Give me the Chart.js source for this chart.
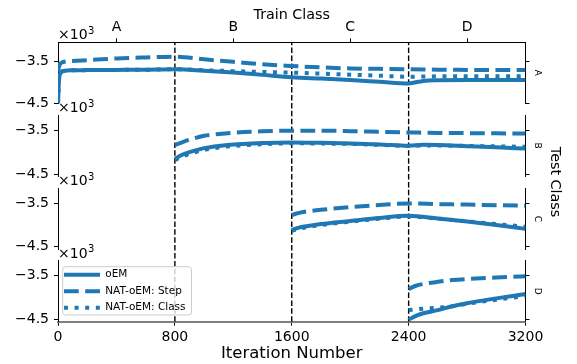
<!DOCTYPE html>
<html>
<head>
<meta charset="utf-8">
<script src="https://cdn.jsdelivr.net/npm/chart.js@4.4.1/dist/chart.umd.min.js"></script>
<style>
  body { margin: 0; background: #fff; }
  #wrap { position: relative; width: 577px; height: 364px; overflow: hidden; background: #fff; }
  #wrap canvas { position: absolute; left: 0; }
</style>
</head>
<body>
<div id="wrap"></div>
<script>
// ---- data (values in raw units, axis shows x10^3) ----
const testClasses = ['A', 'B', 'C', 'D'];
const trainClasses = ['A', 'B', 'C', 'D'];
const trainTickIters = [400, 1200, 2000, 2800];
const iterTicks = [0, 800, 1600, 2400, 3200];
const boundaryIters = [800, 1600, 2400];
const yTicks = [-4500, -3500];
const seriesNames = ['oEM', 'NAT-oEM: Step', 'NAT-oEM: Class'];

const itersA = [0, 8, 20, 40, 100, 200, 400, 600, 800, 1000, 1200, 1400, 1600, 1800, 2000, 2200, 2400, 2500, 2600, 2800, 3000, 3200];
const oemA   = [-4500, -3900, -3760, -3720, -3705, -3700, -3695, -3690, -3680, -3715, -3760, -3815, -3870, -3905, -3940, -3980, -4020, -3960, -3945, -3940, -3940, -3940];
const stepA  = [-3750, -3600, -3530, -3500, -3480, -3460, -3420, -3395, -3375, -3440, -3500, -3560, -3600, -3635, -3660, -3670, -3680, -3685, -3690, -3695, -3700, -3700];
const classA = [-4500, -3900, -3760, -3720, -3705, -3700, -3695, -3690, -3680, -3705, -3725, -3745, -3760, -3785, -3810, -3835, -3860, -3855, -3850, -3850, -3850, -3850];

const itersB = [800, 850, 900, 1000, 1100, 1200, 1400, 1600, 1800, 2000, 2200, 2400, 2500, 2600, 2800, 3000, 3200];
const oemB   = [-4150, -4060, -4000, -3910, -3860, -3830, -3795, -3780, -3790, -3805, -3825, -3855, -3835, -3840, -3865, -3890, -3920];
const stepB  = [-3840, -3780, -3720, -3630, -3590, -3560, -3530, -3515, -3515, -3525, -3540, -3555, -3560, -3565, -3570, -3575, -3580];
const classB = [-4180, -4100, -4040, -3950, -3895, -3860, -3820, -3800, -3805, -3815, -3835, -3860, -3850, -3850, -3860, -3870, -3880];

const itersC = [1600, 1650, 1700, 1800, 2000, 2200, 2400, 2600, 2800, 3000, 3200];
const oemC   = [-4115, -4060, -4030, -3980, -3910, -3840, -3790, -3850, -3920, -4000, -4090];
const stepC  = [-3770, -3720, -3690, -3650, -3590, -3540, -3505, -3520, -3530, -3545, -3555];
const classC = [-4135, -4085, -4050, -4000, -3925, -3855, -3805, -3855, -3915, -3980, -4040];

const itersD = [2400, 2450, 2500, 2600, 2700, 2800, 3000, 3200];
const oemD   = [-4510, -4420, -4360, -4290, -4200, -4130, -4020, -3920];
const stepD  = [-3805, -3730, -3690, -3640, -3600, -3575, -3540, -3510];
const classD = [-4290, -4270, -4255, -4235, -4200, -4145, -4050, -3965];

// y limits of each test-class panel
const panelYMin = [-4505, -4545, -4565, -4555];
const panelYMax = [-3030, -3160, -3155, -3155];

// ---- layout ----
const W = 577, H = 364;
const AREA_LEFT = 58, AREA_RIGHT = 525.5;
const panelTops = [42.3, 115, 188.3, 260.7];
const panelBottoms = [103.5, 176.2, 249.5, 321.7];
const BLUE = '#1f77b4';
const FONT = 'DejaVu Sans';
const LINE_W = 4;
const DASH = [14.8, 6.4];
const DOT = [4, 6.6];

Chart.defaults.font.family = FONT;
Chart.defaults.color = '#000';
Chart.defaults.animation = false;

const wrap = document.getElementById('wrap');
function addCanvas(top, height) {
    const c = document.createElement('canvas');
    c.width = W; c.height = height;
    c.style.top = top + 'px';
    wrap.appendChild(c);
    return c.getContext('2d');
}

function toPoints(iters, values) {
    return iters.map((x, i) => ({ x: x, y: values[i] }));
}

function fmtTick(v) {
    return (v / 1000).toFixed(1).replace('-', '\u2212');
}

// ---- frame: shared axes, boundaries, titles ----
const frameCtx = addCanvas(0, H);
new Chart(frameCtx, {
    type: 'line',
    data: {
        datasets: boundaryIters.map(b => ({
            data: [{ x: b, y: 0 }, { x: b, y: 1 }],
            borderColor: '#000',
            borderWidth: 1.4,
            borderDash: [5.5, 2.4],
            pointRadius: 0
        }))
    },
    options: {
        responsive: false,
        layout: { padding: { left: AREA_LEFT, right: 0, top: 0, bottom: 0 } },
        plugins: { legend: { display: false }, tooltip: { enabled: false } },
        scales: {
            x: {
                type: 'linear', position: 'bottom', min: 0, max: 3200,
                afterBuildTicks: s => { s.ticks = iterTicks.map(v => ({ value: v })); },
                ticks: { font: { size: 14 }, color: '#000', padding: 3.5, maxRotation: 0, autoSkip: false, callback: v => String(v) },
                grid: { drawOnChartArea: false, drawTicks: true, tickLength: 4, color: '#000' },
                border: { display: true, color: '#7f7f7f', width: 2 },
                title: { display: true, text: 'Iteration Number', font: { size: 16.5 }, color: '#000', padding: { top: 0, bottom: 0 } },
                afterFit: s => { s.height = H - panelBottoms[3]; }
            },
            x2: {
                type: 'linear', position: 'top', min: 0, max: 3200,
                afterBuildTicks: s => { s.ticks = trainTickIters.map(v => ({ value: v })); },
                ticks: { font: { size: 14 }, color: '#000', padding: 2.5, maxRotation: 0, autoSkip: false,
                    callback: v => trainClasses[trainTickIters.indexOf(v)] },
                grid: { drawOnChartArea: false, drawTicks: true, tickLength: 4, color: '#000' },
                border: { display: true, color: '#000', width: 1 },
                title: { display: true, text: 'Train Class', font: { size: 14.3 }, color: '#000', padding: { top: 7, bottom: 0 } },
                afterFit: s => { s.height = panelTops[0]; }
            },
            y: { display: false, min: 0, max: 1 },
            y2: {
                position: 'right', min: 0, max: 1,
                ticks: { display: false },
                grid: { display: false },
                border: { display: false },
                title: { display: true, text: 'Test Class', font: { size: 14.3 }, color: '#000', padding: { top: 13.4, bottom: 0 } },
                afterFit: s => { s.width = W - AREA_RIGHT; }
            }
        }
    }
});

// ---- per-panel plugins ----
const exponentLabel = {
    id: 'exponentLabel',
    afterDraw(chart) {
        const a = chart.chartArea, ctx = chart.ctx;
        ctx.save();
        ctx.fillStyle = '#000';
        ctx.textAlign = 'left';
        ctx.textBaseline = 'alphabetic';
        ctx.font = '14px "' + FONT + '"';
        const base = '\u00d710';
        ctx.fillText(base, a.left, a.top - 3);
        const w = ctx.measureText(base).width;
        ctx.font = '10px "' + FONT + '"';
        ctx.fillText('3', a.left + w + 0.5, a.top - 8.5);
        ctx.restore();
    }
};

const legendFrame = {
    id: 'legendFrame',
    afterLayout(chart) {
        const lg = chart.legend;
        if (!lg || !lg.options.display) return;
        const a = chart.chartArea;
        lg.left = a.left; lg.right = a.right;
        lg.top = a.top; lg.bottom = a.bottom - 2.7;
    },
    beforeDraw(chart) {
        const lg = chart.legend;
        if (!lg || !lg.options.display || !lg.columnSizes) return;
        const pad = lg.options.labels.padding;
        const col = lg.columnSizes[0];
        const y0 = lg.bottom - col.height;
        const x = lg.left + 4.7, y = y0 - 2.8;
        const w = pad + col.width + 6 - 4.7;
        const h = (lg.bottom - 4) - y;
        const ctx = chart.ctx;
        ctx.save();
        ctx.beginPath();
        ctx.roundRect(x, y, w, h, 3);
        ctx.fillStyle = 'rgba(255,255,255,0.8)';
        ctx.fill();
        ctx.strokeStyle = '#cccccc';
        ctx.lineWidth = 1;
        ctx.stroke();
        ctx.restore();
    }
};

function legendLabels(chart) {
    const items = Chart.defaults.plugins.legend.labels.generateLabels(chart);
    return items.map((item, i) => {
        const ds = chart.data.datasets[item.datasetIndex];
        return Object.assign(item, {
            pointStyle: 'line',
            lineDash: ds.borderDash || [],
            lineWidth: LINE_W,
            strokeStyle: BLUE,
            fillStyle: BLUE
        });
    });
}

const panels = [
    [itersA, oemA, stepA, classA],
    [itersB, oemB, stepB, classB],
    [itersC, oemC, stepC, classC],
    [itersD, oemD, stepD, classD]
];

panels.forEach((p, idx) => {
    const [iters, oem, step, cls] = p;
    const top = panelTops[idx], bottom = panelBottoms[idx];
    const canvasTop = Math.floor(top) - 20;
    const canvasBottom = Math.ceil(bottom) + 14;
    const ctx = addCanvas(canvasTop, canvasBottom - canvasTop);
    const yMin = panelYMin[idx], yMax = panelYMax[idx];
    const isLast = idx === panels.length - 1;

    const lineBase = {
        borderColor: BLUE, backgroundColor: BLUE, borderWidth: LINE_W,
        pointRadius: 0, fill: false, cubicInterpolationMode: 'monotone',
        borderJoinStyle: 'round'
    };

    new Chart(ctx, {
        type: 'line',
        data: {
            datasets: [
                Object.assign({ label: seriesNames[0], data: toPoints(iters, oem), borderDash: [] }, lineBase),
                Object.assign({ label: seriesNames[1], data: toPoints(iters, step), borderDash: DASH }, lineBase),
                Object.assign({ label: seriesNames[2], data: toPoints(iters, cls), borderDash: DOT }, lineBase)
            ]
        },
        options: {
            responsive: false,
            layout: { padding: { left: 0, right: 0, top: top - canvasTop, bottom: canvasBottom - bottom } },
            plugins: {
                tooltip: { enabled: false },
                legend: {
                    display: isLast,
                    position: 'chartArea',
                    align: 'end',
                    labels: {
                        usePointStyle: true, pointStyle: 'line', pointStyleWidth: 36,
                        padding: 6, color: '#000', font: { size: 10.5 },
                        generateLabels: legendLabels
                    }
                }
            },
            scales: {
                x: { type: 'linear', min: 0, max: 3200, display: false },
                y: {
                    position: 'left', min: yMin, max: yMax,
                    afterBuildTicks: s => { s.ticks = yTicks.map(v => ({ value: v })); },
                    ticks: { font: { size: 14 }, color: '#000', padding: 5, callback: v => fmtTick(v) },
                    grid: { drawOnChartArea: false, drawTicks: true, tickLength: 4, color: '#000' },
                    border: { display: true, color: '#000', width: 1 },
                    afterFit: s => { s.width = AREA_LEFT; }
                },
                y2: {
                    position: 'right', min: yMin, max: yMax,
                    afterBuildTicks: s => { s.ticks = yTicks.map(v => ({ value: v })); },
                    ticks: { display: false },
                    grid: { drawOnChartArea: false, drawTicks: true, tickLength: 4, color: '#000' },
                    border: { display: true, color: '#000', width: 1 },
                    title: { display: true, text: testClasses[idx], font: { size: 9 }, color: '#000', padding: { top: 34.6, bottom: 0 } },
                    afterFit: s => { s.width = W - AREA_RIGHT; }
                }
            }
        },
        plugins: [exponentLabel, legendFrame]
    });
});
</script>
</body>
</html>
